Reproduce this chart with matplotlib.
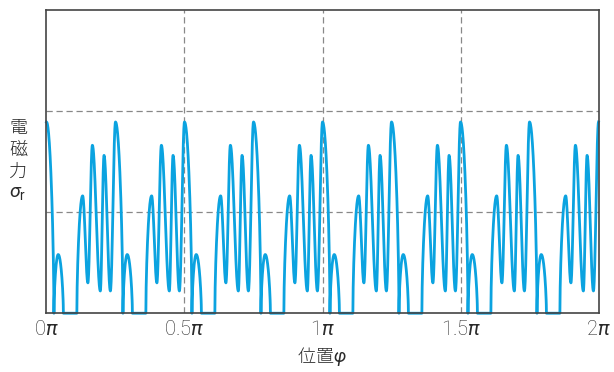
import matplotlib
matplotlib.use('Agg')
import matplotlib.pyplot as plt
import numpy as np

plt.rcParams['mathtext.fontset'] = 'custom'
plt.rcParams['mathtext.rm'] = 'Roboto'
plt.rcParams['mathtext.it'] = 'Roboto:style=italic'

# one period of the waveform (position as fraction of a period, value)
period_pos = [0.0, 0.108, 0.170, 0.245, 0.44, 0.524, 0.60, 0.665, 0.78, 0.834, 0.926, 1.0]
period_val = [1.89, 0.0, 0.58, 0.0, 0.0, 1.16, 0.30, 1.66, 0.22, 1.56, 0.22, 1.89]
N_PERIODS = 8
PERIOD = 0.25  # in units of pi

tick_pos = [0, 0.5, 1, 1.5, 2]
tick_labels = ['0$\\pi$', '0.5$\\pi$', '1$\\pi$', '1.5$\\pi$', '2$\\pi$']
y_grid = [1, 2]

LINE_COLOR = '#0ba3e0'
TEXT_COLOR = '#2a2a2a'


def segment(x0, y0, x1, y1, n=40):
    t = np.linspace(0, 1, n)
    if y0 == 0 and y1 == 0:
        y = np.zeros(n)
    elif y0 == 0:
        y = y1 * np.sin(t * np.pi / 2) ** 0.6
    elif y1 == 0:
        y = y0 * np.cos(t * np.pi / 2) ** 0.6
    else:
        y = y0 + (y1 - y0) * (1 - np.cos(t * np.pi)) / 2
    return x0 + (x1 - x0) * t, y


xs, ys = [], []
for k in range(N_PERIODS):
    for i in range(len(period_pos) - 1):
        x0 = (k + period_pos[i]) * PERIOD
        x1 = (k + period_pos[i + 1]) * PERIOD
        sx, sy = segment(x0, period_val[i], x1, period_val[i + 1])
        xs.append(sx)
        ys.append(sy)
x = np.concatenate(xs)
y = np.concatenate(ys)

fig = plt.figure(figsize=(6.14, 3.72), dpi=100)
ax = fig.add_axes([0.0757, 0.158, 0.8991, 0.816])

for gx in tick_pos[1:-1]:
    ax.axvline(gx, color='#888888', lw=0.9, ls=(0, (5, 3)), zorder=1)
for gy in y_grid:
    ax.axhline(gy, color='#888888', lw=0.9, ls=(0, (5, 3)), zorder=1)

ax.plot(x, y, color=LINE_COLOR, lw=2.0, clip_on=False, zorder=2)

ax.set_xlim(0, 2)
ax.set_ylim(0, 3)
ax.set_yticks([])
ax.set_xticks(tick_pos)
ax.set_xticklabels(tick_labels, fontsize=14.5, color=TEXT_COLOR,
                   family=['Roboto', 'DejaVu Sans'], fontweight='light')
ax.tick_params(axis='x', length=0, pad=5)
for s in ax.spines.values():
    s.set_color('#444444')
    s.set_linewidth(1.2)

cjk = ['Noto Sans CJK JP', 'DejaVu Sans']
for i, ch in enumerate(['電', '磁', '力']):
    fig.text(18 / 614, 1 - (128 + 22 * i) / 372, ch, fontsize=13, color=TEXT_COLOR,
             family=cjk, ha='center', va='center', fontweight='light')
fig.text(18 / 614, 1 - 192 / 372, '$\\sigma_\\mathrm{r}$', fontsize=14, color=TEXT_COLOR,
         ha='center', va='center')
fig.text(322 / 614, 1 - 356 / 372, '位置$\\varphi$', fontsize=13, color=TEXT_COLOR,
         family=cjk, ha='center', va='center', fontweight='light')

fig.savefig('out.png', dpi=100)
